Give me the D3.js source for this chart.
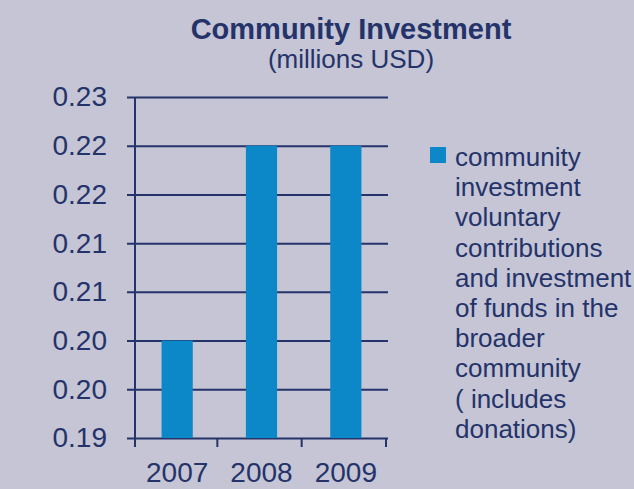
<!DOCTYPE html>
<html lang="en">
<head>
<meta charset="utf-8">
<title>Community Investment</title>
<script src="https://cdn.jsdelivr.net/npm/d3@7"></script>
<style>
  body { margin: 0; background: #c5c5d6; }
  svg { display: block; }
  text { font-family: "Liberation Sans", Arial, sans-serif; fill: #243369; }
</style>
</head>
<body>
<script>
// data
var years = ["2007", "2008", "2009"];
var values = [0.20, 0.22, 0.22];
var yTicks = [0.19, 0.195, 0.20, 0.205, 0.21, 0.215, 0.22, 0.225];
var legendLines = ["community", "investment", "voluntary", "contributions",
  "and investment", "of funds in the", "broader", "community", "( includes", "donations)"];

var w = 634, h = 489;
var ink = "#243369", barColor = "#0c88c9";
var plotLeft = 135, plotRight = 388, plotTop = 97, plotBottom = 438;

var svg = d3.select("body").append("svg").attr("width", w).attr("height", h);

var x = d3.scaleBand().domain(years).range([plotLeft, plotRight]).paddingInner(0.63).paddingOuter(0.315);
var xOuter = d3.scaleBand().domain(years).range([plotLeft, plotRight]);
var y = d3.scaleLinear().domain([0.19, 0.225]).range([plotBottom, plotTop]);

// title
svg.append("text").attr("x", 351).attr("y", 39).attr("text-anchor", "middle")
  .style("font-size", "29px").style("font-weight", "bold").text("Community Investment");
svg.append("text").attr("x", 351).attr("y", 68).attr("text-anchor", "middle")
  .style("font-size", "26px").text("(millions USD)");

// gridlines + y labels
var yAxis = d3.axisLeft(y).tickValues(yTicks).tickSize(-(plotRight - plotLeft)).tickSizeOuter(0)
  .tickPadding(28).tickFormat(function(d) { return (Math.round(d * 100 + 1e-9) / 100).toFixed(2); });
var gy = svg.append("g").attr("transform", "translate(" + plotLeft + ",0)").call(yAxis);
gy.select(".domain").remove();
gy.selectAll("line").attr("x1", -8).attr("stroke", ink).attr("stroke-width", 2);
gy.selectAll("text").style("font-size", "28px").attr("fill", ink);

// bars
svg.selectAll("rect.bar").data(values).enter().append("rect").attr("class", "bar")
  .attr("x", function(d, i) { return x(years[i]); })
  .attr("width", x.bandwidth())
  .attr("y", function(d) { return y(d); })
  .attr("height", function(d) { return y(0.19) - y(d); })
  .attr("fill", barColor);

// y axis line
svg.append("line").attr("x1", plotLeft).attr("x2", plotLeft).attr("y1", plotTop).attr("y2", plotBottom + 9)
  .attr("stroke", ink).attr("stroke-width", 2);

// x tick marks at band edges
var edges = years.map(function(d) { return xOuter(d); }).concat([plotRight]);
svg.selectAll("line.xt").data(edges.slice(1)).enter().append("line").attr("class", "xt")
  .attr("x1", function(d) { return d - 2; }).attr("x2", function(d) { return d - 2; })
  .attr("y1", plotBottom).attr("y2", plotBottom + 9)
  .attr("stroke", ink).attr("stroke-width", 2);

// x labels (kept just inside the bottom edge)
svg.selectAll("text.xl").data(years).enter().append("text").attr("class", "xl")
  .attr("x", function(d) { return x(d) + x.bandwidth() / 2; })
  .attr("y", 482).attr("text-anchor", "middle").style("font-size", "28px")
  .text(function(d) { return d; });

// legend
svg.append("rect").attr("x", 430).attr("y", 147).attr("width", 16).attr("height", 16).attr("fill", barColor);
svg.selectAll("text.lg").data(legendLines).enter().append("text").attr("class", "lg")
  .attr("x", 455).attr("y", function(d, i) { return 166 + i * 30.2; })
  .style("font-size", "26px").text(function(d) { return d; });
</script>
</body>
</html>
